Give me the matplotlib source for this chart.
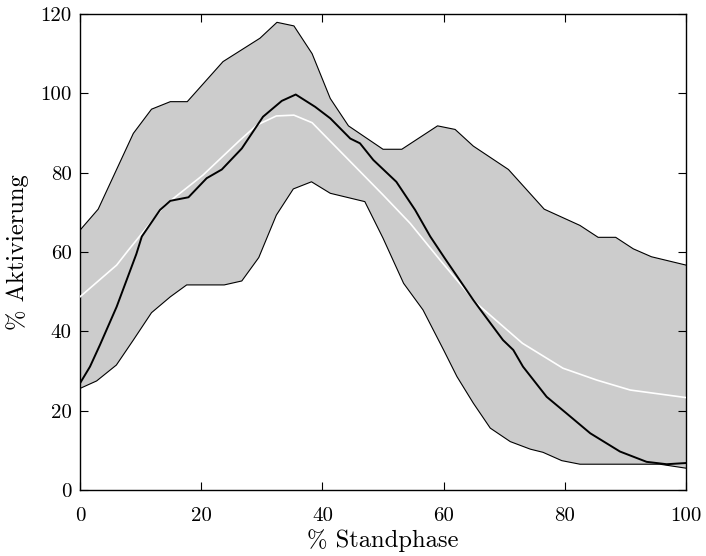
import matplotlib
matplotlib.use("Agg")
import matplotlib.pyplot as plt
import numpy as np

# Upper bound
upper_x = [0, 3, 8.8, 11.8, 14.9, 17.7, 23.6, 29.7, 32.5, 35.3, 38.3, 41.3, 44.3, 50, 53.1, 59, 61.9, 64.9, 70.7, 76.6, 82.5, 85.5, 88.4, 91.3, 94.3, 100]
upper_y = [65.5, 70.8, 89.9, 96, 97.9, 97.9, 108, 113.9, 117.9, 117, 110, 98.7, 91.8, 85.9, 85.9, 91.8, 90.9, 86.7, 80.8, 70.8, 66.7, 63.7, 63.7, 60.8, 58.8, 56.7]

# Lower bound
lower_x = [0, 2.75, 6, 8.8, 11.8, 14.9, 17.6, 23.8, 26.7, 29.5, 32.4, 35.2, 38.2, 41.3, 47, 50, 53.4, 56.6, 60, 62.2, 64.9, 67.7, 71, 74.3, 76.4, 79.5, 82.5, 95.7, 100]
lower_y = [25.6, 27.5, 31.5, 37.8, 44.7, 48.7, 51.7, 51.7, 52.7, 58.6, 69.3, 75.9, 77.7, 74.8, 72.7, 63.5, 52.1, 45.4, 35.3, 28.6, 21.9, 15.6, 12.2, 10.3, 9.5, 7.4, 6.5, 6.5, 5.5]

# Black curve
black_x = [0, 1.65, 3.3, 6.05, 9.3, 10.2, 13.2, 14.9, 17.9, 20.9, 23.4, 26.7, 30.2, 33.3, 35.6, 38.8, 41.3, 44.6, 46.2, 48.4, 52.2, 55.3, 57.8, 60.2, 64.9, 66, 69.8, 71.5, 73.1, 77, 80.3, 84.2, 89.1, 93.5, 96.8, 100]
black_y = [26.9, 31.1, 36.6, 46.2, 59.5, 63.9, 70.6, 72.9, 73.8, 78.6, 80.8, 86.1, 94.1, 98.1, 99.7, 96.6, 93.7, 88.6, 87.4, 83.2, 77.7, 70.6, 63.9, 58.4, 47.9, 45.6, 37.8, 35.3, 31.1, 23.5, 19.3, 14.3, 9.7, 7.1, 6.5, 6.8]

# White curve
white_x = [0, 6.05, 8, 14, 20.3, 26.4, 29.2, 32.4, 35.3, 38.3, 44.6, 50, 54.5, 59.4, 65.4, 73, 79.7, 85.3, 90.8, 100]
white_y = [48.7, 56.7, 60.5, 71.8, 79.4, 88.2, 92, 94.3, 94.5, 92.6, 82.8, 74.4, 67.2, 58, 47.1, 37, 30.7, 27.7, 25.2, 23.3]

xticks = [0, 20, 40, 60, 80, 100]
yticks = [0, 20, 40, 60, 80, 100, 120]

plt.rcParams['font.family'] = ['cmr10', 'DejaVu Serif']
plt.rcParams['mathtext.fontset'] = 'cm'
plt.rcParams['axes.formatter.use_mathtext'] = True

fig = plt.figure(figsize=(7.06, 5.56), dpi=100)
ax = fig.add_axes([80/706, 66/556, 606/706, 476/556])

# fill polygon between upper and lower bounds
poly_x = upper_x + lower_x[::-1]
poly_y = upper_y + lower_y[::-1]
ax.fill(poly_x, poly_y, facecolor='#cccccc', edgecolor='none', zorder=1)
ax.plot(upper_x, upper_y, color='black', lw=0.8, zorder=2)
ax.plot(lower_x, lower_y, color='black', lw=0.8, zorder=2)
ax.plot(white_x, white_y, color='white', lw=1.2, zorder=3)
ax.plot(black_x, black_y, color='black', lw=1.4, zorder=4)

ax.set_xlim(0, 100)
ax.set_ylim(0, 120)
ax.set_xticks(xticks)
ax.set_yticks(yticks)
ax.set_xticklabels([str(t) for t in xticks])
ax.set_yticklabels([str(t) for t in yticks])
ax.tick_params(direction='in', top=True, right=True, length=6, width=0.8, labelsize=15)
ax.tick_params(axis='x', pad=12)
ax.tick_params(axis='y', pad=6)
for s in ax.spines.values():
    s.set_linewidth(1.0)
ax.set_xlabel('% Standphase', fontsize=17.7, labelpad=3)
ax.set_ylabel('% Aktivierung', fontsize=17.7, labelpad=8)

fig.savefig('out.png', dpi=100)
